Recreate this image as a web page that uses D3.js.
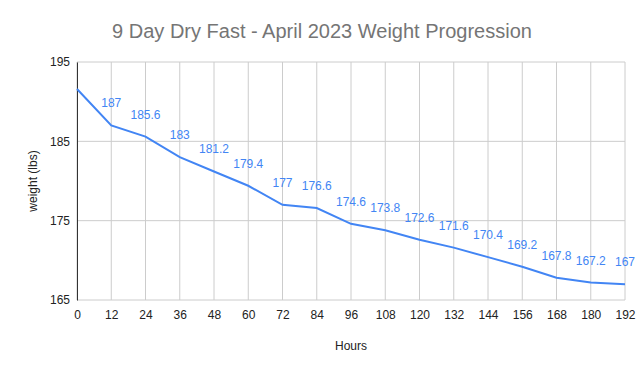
<!DOCTYPE html>
<html>
<head>
<meta charset="utf-8">
<script src="https://cdn.jsdelivr.net/npm/d3@7"></script>
<style>
  body { margin: 0; background: #fff; }
  text { font-family: "Liberation Sans", Arial, sans-serif; }
</style>
</head>
<body>
<div id="chart"></div>
<script>
// weight readings every 12 hours
const hours = [0, 12, 24, 36, 48, 60, 72, 84, 96, 108, 120, 132, 144, 156, 168, 180, 192];
const weights = [191.6, 187, 185.6, 183, 181.2, 179.4, 177, 176.6, 174.6, 173.8, 172.6, 171.6, 170.4, 169.2, 167.8, 167.2, 167];
const yTicks = [165, 175, 185, 195];

const W = 644, H = 371;
const margin = {top: 62, right: 19, bottom: 71, left: 77};
const width = W - margin.left - margin.right,
      height = H - margin.top - margin.bottom;

const svg = d3.select("#chart").append("svg")
    .attr("width", W)
    .attr("height", H);

svg.append("text")
    .attr("x", 322).attr("y", 38)
    .attr("text-anchor", "middle")
    .style("font-size", "20px")
    .style("fill", "#757575")
    .text("9 Day Dry Fast - April 2023 Weight Progression");

const g = svg.append("g")
    .attr("transform", "translate(" + margin.left + "," + margin.top + ")");

const x = d3.scaleLinear().domain([0, 192]).range([0, width]);
const y = d3.scaleLinear().domain([165, 195]).range([height, 0]);

// gridlines
g.append("g").selectAll("line")
    .data(hours)
    .enter().append("line")
    .attr("x1", d => x(d)).attr("x2", d => x(d))
    .attr("y1", 0).attr("y2", height)
    .attr("stroke", "#cccccc");
g.append("g").selectAll("line")
    .data(yTicks)
    .enter().append("line")
    .attr("x1", 0).attr("x2", width)
    .attr("y1", d => y(d)).attr("y2", d => y(d))
    .attr("stroke", "#cccccc");

const xAxis = g.append("g")
    .attr("transform", "translate(0," + height + ")")
    .call(d3.axisBottom(x).tickValues(hours).tickSize(0).tickPadding(10));
xAxis.select(".domain").remove();

const yAxis = g.append("g")
    .call(d3.axisLeft(y).tickValues(yTicks).tickSize(0).tickPadding(7));
yAxis.select(".domain").attr("stroke", "#333333");

g.selectAll(".tick text")
    .style("font-size", "12px")
    .style("font-family", "'Liberation Sans', Arial, sans-serif")
    .style("fill", "#222222");

// axis titles
svg.append("text")
    .attr("x", margin.left + width / 2).attr("y", 350)
    .attr("text-anchor", "middle")
    .style("font-size", "12px")
    .style("fill", "#222222")
    .text("Hours");
svg.append("text")
    .attr("transform", "translate(37," + (margin.top + height / 2) + ") rotate(-90)")
    .attr("text-anchor", "middle")
    .style("font-size", "12px")
    .style("fill", "#222222")
    .text("weight (lbs)");

const line = d3.line()
    .x((d, i) => x(hours[i]))
    .y(d => y(d));

g.append("path")
    .datum(weights)
    .attr("fill", "none")
    .attr("stroke", "#4285f4")
    .attr("stroke-width", 2)
    .attr("d", line);

// data labels (none on the first point)
g.selectAll(".lbl")
    .data(weights.slice(1))
    .enter().append("text")
    .attr("class", "lbl")
    .attr("x", (d, i) => x(hours[i + 1]))
    .attr("y", d => y(d) - 18)
    .attr("text-anchor", "middle")
    .style("font-size", "12px")
    .style("fill", "#4285f4")
    .text(d => d);
</script>
</body>
</html>
